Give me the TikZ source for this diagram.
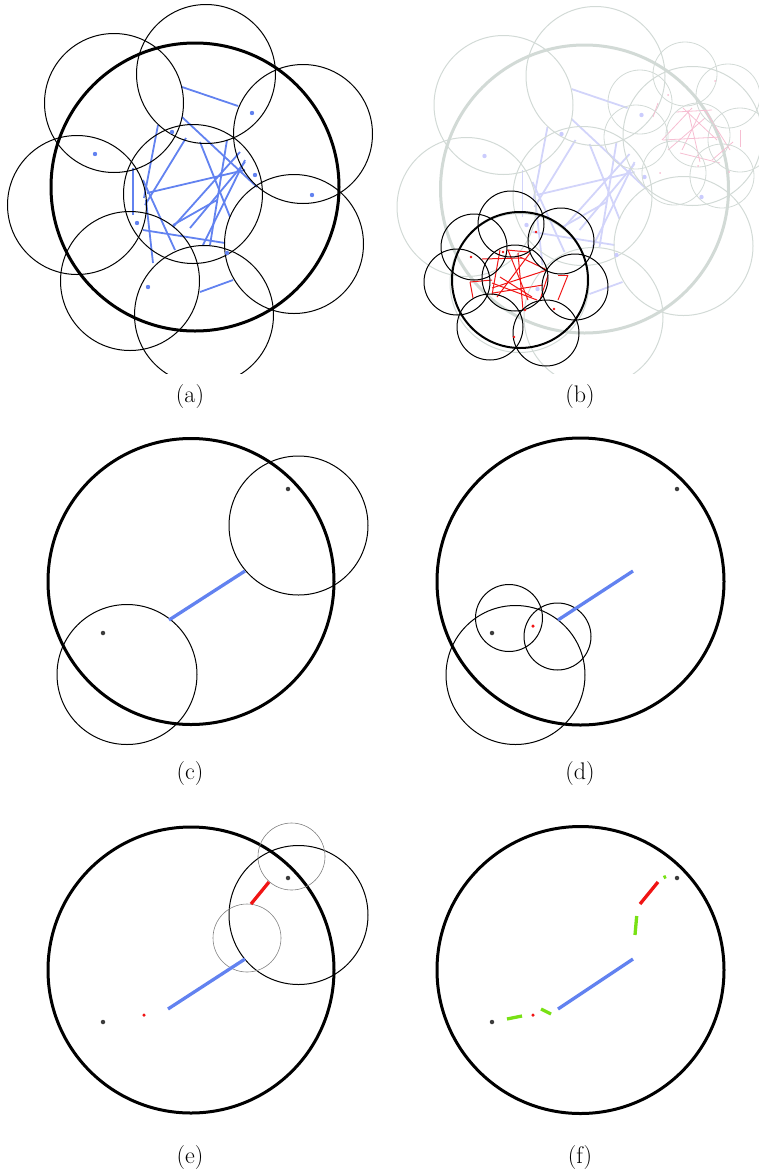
\documentclass[tikz,border=0pt]{standalone}
\usepackage{xcolor}
\usepackage{tikz}
\usetikzlibrary{positioning}
\definecolor{edgeblue}{RGB}{98,130,240}
\definecolor{edgered}{RGB}{240,20,20}
\definecolor{edgegreen}{RGB}{120,225,20}
\definecolor{dotgray}{RGB}{60,60,60}
\definecolor{fadegray}{RGB}{210,218,214}
\definecolor{fadeblue}{RGB}{210,212,250}
\definecolor{fadepink}{RGB}{246,190,210}

% ranges and links of the first swarm
\def\ringA{206/74, 114/103, 303/134, 77/205, 294/244, 130/281, 204/315, 193/194}
\def\dotsA{252/113, 95/154, 255/175, 312/195, 137/223, 148/287, 172/132, 227/253}
\def\edgesA{182/87/238/106, 182/117/257/187, 158/125/144/198, 146/200/153/263,
  186/138/145/205, 200/142/230/217, 227/140/210/245, 147/193/245/170,
  240/152/173/227, 245/162/190/228, 133/168/133/215, 143/180/175/250,
  143/230/225/243, 245/160/203/245, 200/292/233/280, 173/225/217/200}
% the smaller swarm
\def\ringB{511/224, 561/241, 474/247, 457/282, 575/287, 490/327, 546/333, 515/278}
\def\dotsB{536/232, 471/257, 503/252, 554/309, 525/310, 514/337}
\def\edgesB{470/282/473/298, 470/282/492/280, 482/259/522/258, 500/250/492/295,
  508/250/528/300, 518/253/523/310, 547/270/492/288, 548/275/540/300,
  558/275/568/275, 568/275/558/300, 492/283/537/300, 493/293/543/285,
  520/257/547/270, 530/253/497/297, 500/277/532/297, 507/250/528/252}
% the faded one up right
\def\ringP{685/74, 640/102, 728/96, 636/137, 698/135, 740/140, 674/173, 722/176}
\def\dotsP{668/95, 715/81, 660/173, 698/166, 729/172}
\def\edgesP{658/103/653/117, 683/108/717/140, 688/110/700/162, 663/140/720/137,
  680/153/720/163, 692/108/662/140, 700/113/682/150, 740/130/740/147,
  676/112/712/110, 705/110/730/150, 668/150/705/118, 712/160/733/142}

\begin{document}
\begin{tikzpicture}[
    x=1pt, y=-1pt,
    outer/.style={line width=3pt},
    hop/.style={line width=1pt},
    small/.style={line width=0.6pt, gray},
    edge/.style={edgeblue, line width=1.8pt},
    seg/.style={line width=3.3pt},
    dot/.style={circle, fill=dotgray, inner sep=0pt, minimum size=4.5pt},
    rdot/.style={circle, fill=edgered, inner sep=0pt, minimum size=3.5pt},
    lbl/.style={font=\fontsize{24}{28}\selectfont}
]
\useasboundingbox (0,0) rectangle (759,1176);

% (a)
\begin{scope}
  \clip (0,0) rectangle (380,373);
  \foreach \xa/\ya/\xb/\yb in \edgesA {\draw[edge] (\xa,\ya) -- (\xb,\yb);}
  \foreach \cx/\cy in \ringA {\draw[hop] (\cx,\cy) circle (69.5pt);}
  \draw[outer] (195,187) circle (144pt);
  \foreach \cx/\cy in \dotsA {\fill[edgeblue] (\cx,\cy) circle (2.2pt);}
\end{scope}

% (b)
\begin{scope}
  \clip (380,0) rectangle (759,373);
  \begin{scope}[shift={(389.5,2)}]
    \foreach \xa/\ya/\xb/\yb in \edgesA {\draw[edge, fadeblue] (\xa,\ya) -- (\xb,\yb);}
    \foreach \cx/\cy in \ringA {\draw[hop, fadegray] (\cx,\cy) circle (69.5pt);}
    \draw[outer, fadegray] (195,187) circle (144pt);
    \foreach \cx/\cy in \dotsA {\fill[fadeblue!80!blue!60] (\cx,\cy) circle (2.2pt);}
  \end{scope}
  \foreach \xa/\ya/\xb/\yb in \edgesP {\draw[fadepink, line width=0.8pt] (\xa,\ya) -- (\xb,\yb);}
  \foreach \cx/\cy in \ringP {\draw[fadegray, line width=0.8pt] (\cx,\cy) circle (32pt);}
  \foreach \cx/\cy in \dotsP {\fill[fadepink] (\cx,\cy) circle (1pt);}
  \foreach \xa/\ya/\xb/\yb in \edgesB {\draw[edgered, line width=1pt] (\xa,\ya) -- (\xb,\yb);}
  \foreach \cx/\cy in \ringB {\draw[hop] (\cx,\cy) circle (33pt);}
  \draw[line width=2pt] (520,280) circle (68pt);
  \foreach \cx/\cy in \dotsB {\fill[edgered] (\cx,\cy) circle (1.4pt);}
\end{scope}

% (c)
\draw[outer] (191,581.5) circle (143pt);
\draw[hop] (298.5,525.5) circle (69.5pt);
\draw[hop] (127,674.5) circle (70pt);
\node[dot] (c-src) at (103,633) {};
\node[dot] (c-dst) at (288,489) {};
\coordinate (c-p1) at (169,620);
\coordinate (c-p2) at (245,571);
\draw[seg, edgeblue] (c-p1) -- (c-p2);

% (d)
\draw[outer] (580.5,581.5) circle (143.5pt);
\draw[hop] (515.5,675) circle (69.5pt);
\draw[hop] (509,618) circle (33.5pt);
\draw[hop] (557.5,636.5) circle (33.5pt);
\node[dot] (d-src) at (492,633) {};
\node[dot] (d-dst) at (677,489) {};
\node[rdot] (d-mid) at (533,626) {};
\coordinate (d-p1) at (558,620);
\coordinate (d-p2) at (633,571);
\draw[seg, edgeblue] (d-p1) -- (d-p2);

% (e)
\draw[outer] (191,970) circle (143pt);
\draw[hop] (298.5,915) circle (69.5pt);
\draw[small] (291.5,856.5) circle (33.5pt);
\draw[small] (247,938) circle (34pt);
\node[dot] (e-src) at (103,1022) {};
\node[dot] (e-dst) at (288,878) {};
\node[rdot] (e-mid) at (144,1015) {};
\coordinate (e-p1) at (168,1009);
\coordinate (e-p2) at (245,959);
\coordinate (e-q1) at (251,904);
\coordinate (e-q2) at (269,882);
\draw[seg, edgeblue] (e-p1) -- (e-p2);
\draw[seg, edgered] (e-q1) -- (e-q2);

% (f)
\draw[outer] (580.5,970) circle (143.5pt);
\node[dot] (f-src) at (492,1022) {};
\node[dot] (f-dst) at (677,878) {};
\node[rdot] (f-mid) at (533,1015) {};
\coordinate (f-p1) at (558,1009);
\coordinate (f-p2) at (633,959);
\coordinate (f-q1) at (640,904);
\coordinate (f-q2) at (658,882);
\coordinate (f-g1) at (507,1019);
\coordinate (f-g2) at (522,1016);
\coordinate (f-g3) at (541,1009);
\coordinate (f-g4) at (551,1014);
\coordinate (f-g5) at (636.7,916);
\coordinate (f-g6) at (635,935);
\coordinate (f-g7) at (663.6,877.6);
\coordinate (f-g8) at (666,876.5);
\draw[seg, edgeblue] (f-p1) -- (f-p2);
\draw[seg, edgered] (f-q1) -- (f-q2);
\draw[seg, edgegreen] (f-g1) -- (f-g2);
\draw[seg, edgegreen] (f-g3) -- (f-g4);
\draw[seg, edgegreen] (f-g5) -- (f-g6);
\draw[seg, edgegreen] (f-g7) -- (f-g8);

% captions
\node[lbl] (cap-a) at (190,397) {(a)};
\node[lbl] (cap-b) at (580,397) {(b)};
\node[lbl] (cap-c) at (190,774) {(c)};
\node[lbl] (cap-d) at (580,774) {(d)};
\node[lbl] (cap-e) at (190,1157) {(e)};
\node[lbl] (cap-f) at (580,1157) {(f)};
\end{tikzpicture}
\end{document}
